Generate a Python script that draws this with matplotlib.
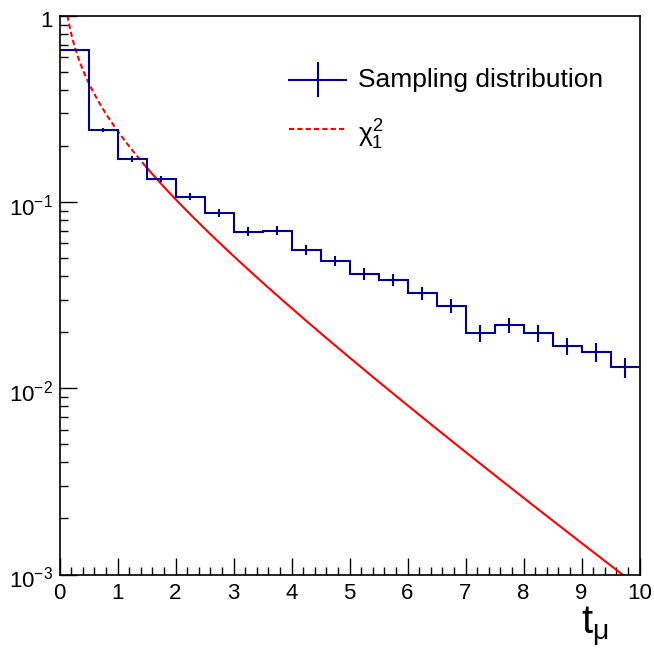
import numpy as np
import matplotlib
matplotlib.use("Agg")
import matplotlib.pyplot as plt
import matplotlib.transforms as mtransforms
from matplotlib.ticker import FixedLocator, NullFormatter
from matplotlib.lines import Line2D
from math import gamma

# ---------------- data ----------------
bin_edges = [0.0, 0.5, 1.0, 1.5, 2.0, 2.5, 3.0, 3.5, 4.0, 4.5, 5.0,
             5.5, 6.0, 6.5, 7.0, 7.5, 8.0, 8.5, 9.0, 9.5, 10.0]
hist_values = [0.657, 0.244, 0.1706, 0.133, 0.107, 0.0872, 0.0695, 0.0703,
               0.0554, 0.0485, 0.0413, 0.0384, 0.0324, 0.0277, 0.0198, 0.0219,
               0.0198, 0.0169, 0.0157, 0.0130]
hist_errors = [0.0115, 0.0070, 0.0059, 0.0052, 0.0047, 0.0042, 0.0037, 0.0038,
               0.0033, 0.0031, 0.0029, 0.0028, 0.0026, 0.0024, 0.0020, 0.0021,
               0.0020, 0.0018, 0.0018, 0.0016]
chi2_dof = 1
dash_until = 1.5
x_ticks = [0, 1, 2, 3, 4, 5, 6, 7, 8, 9, 10]
x_tick_labels = ["0", "1", "2", "3", "4", "5", "6", "7", "8", "9", "10"]
y_ticks = [1e-3, 1e-2, 1e-1, 1.0]
y_tick_labels = [r"$10^{-3}$", r"$10^{-2}$", r"$10^{-1}$", "1"]
legend_labels = ["Sampling distribution", r"$\chi^{2}_{1}$"]
x_title = r"$t_{\mu}$"

# ---------------- style ----------------
plt.rcParams["font.family"] = ["Liberation Sans", "DejaVu Sans"]
plt.rcParams["mathtext.fontset"] = "custom"
plt.rcParams["mathtext.rm"] = "Liberation Sans"
plt.rcParams["mathtext.it"] = "Liberation Sans"
plt.rcParams["mathtext.sf"] = "Liberation Sans"
plt.rcParams["mathtext.bf"] = "Liberation Sans:bold"

W, H = 654, 648
blue = "#000099"
red = "#ff0000"
lw = 1.5

fig = plt.figure(figsize=(W / 100, H / 100), dpi=100)
L, R, T, B = 59.5, 639.5, 16, 574.5
ax = fig.add_axes([L / W, 1 - B / H, (R - L) / W, (B - T) / H])

edges = np.array(bin_edges)
centers = 0.5 * (edges[:-1] + edges[1:])

# histogram
ax.stairs(hist_values, edges, baseline=None, color=blue, lw=lw, zorder=3)
ax.errorbar(centers, hist_values, yerr=hist_errors, fmt="none", ecolor=blue,
            elinewidth=lw, capsize=0, zorder=3)

# chi2 pdf curve (1 dof)
xs = np.linspace(0.01, 10, 2000)
k = chi2_dof
pdf = xs ** (k / 2 - 1) * np.exp(-xs / 2) / (2 ** (k / 2) * gamma(k / 2))
m1 = xs <= dash_until
m2 = xs >= dash_until - 0.01
ax.plot(xs[m1], pdf[m1], color=red, lw=lw, dashes=(2.5, 1.5), zorder=2)
ax.plot(xs[m2], pdf[m2], color=red, lw=lw, zorder=2)

ax.set_xlim(0, 10)
ax.set_yscale("log")
ax.set_ylim(1e-3, 1)

# ticks
ax.xaxis.set_major_locator(FixedLocator(x_ticks))
ax.set_xticklabels(x_tick_labels)
ax.xaxis.set_minor_locator(FixedLocator(np.arange(0, 10.01, 0.2)))
ax.yaxis.set_major_locator(FixedLocator(y_ticks))
ax.set_yticklabels(y_tick_labels)
ax.yaxis.set_minor_locator(FixedLocator(
    [m * 10.0 ** e for e in (-3, -2, -1) for m in range(2, 10)]))
ax.yaxis.set_minor_formatter(NullFormatter())
ax.tick_params(which="both", direction="in", top=False, right=False,
               labelsize=16, width=1, color="black")
ax.tick_params(axis="x", which="major", length=12, pad=6)
ax.tick_params(axis="x", which="minor", length=6)
ax.tick_params(axis="y", which="major", length=12, pad=4.5)
ax.tick_params(axis="y", which="minor", length=6)
for s in ax.spines.values():
    s.set_linewidth(1.2)

shift = mtransforms.ScaledTranslation(0, -3 / 100, fig.dpi_scale_trans)
for lab in ax.get_yticklabels():
    lab.set_transform(lab.get_transform() + shift)

# x title
fig.text(608 / W, 1 - 648 / H, x_title, fontsize=29, ha="right", va="bottom")

# legend (manual, ROOT-like)
def fx(px):
    return px / W

def fy(py):
    return 1 - py / H

y1, y2 = 80, 129
fig.add_artist(Line2D([fx(289), fx(346)], [fy(y1), fy(y1)], color=blue, lw=lw,
                      transform=fig.transFigure))
fig.add_artist(Line2D([fx(317.5), fx(317.5)], [fy(63), fy(96)], color=blue, lw=lw,
                      transform=fig.transFigure))
fig.add_artist(Line2D([fx(289), fx(346)], [fy(y2), fy(y2)], color=red, lw=lw,
                      dashes=(2.5, 1.5), transform=fig.transFigure))
fig.text(fx(358), fy(y1), legend_labels[0], fontsize=19, ha="left", va="center")
fig.text(fx(358), fy(y2 + 6), legend_labels[1], fontsize=19, ha="left", va="center")

fig.savefig("out.png", dpi=100)
